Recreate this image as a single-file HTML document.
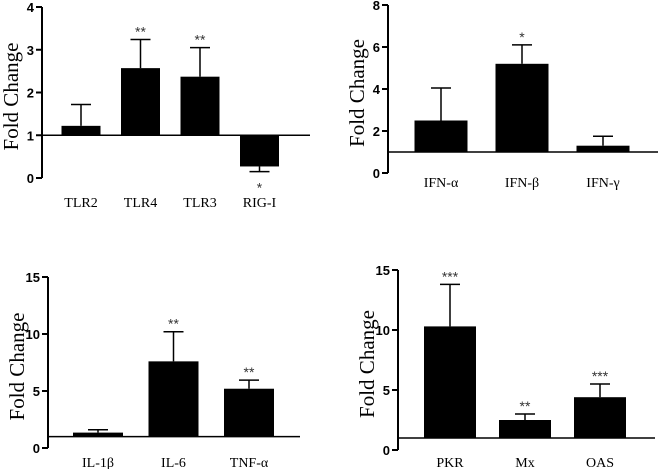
<!DOCTYPE html>
<html><head><meta charset="utf-8"><style>
body{margin:0;background:#fff;width:661px;height:469px;overflow:hidden}
svg{display:block}
.tick{font:bold 13px "Liberation Sans",sans-serif;fill:#000}
.cat{font:14px "Liberation Serif",serif;fill:#000}
.yt{font:21px "Liberation Serif",serif;fill:#000}
.star{font:14px "Liberation Sans",sans-serif;fill:#333}
</style></head><body>
<svg id="chart" width="661" height="469"></svg>
<script>
const p1Cats=["TLR2","TLR4","TLR3","RIG-I"];
const p1Vals=[1.22,2.57,2.37,0.27];
const p1Errs=[0.5,0.67,0.68,0.12];
const p1Stars=["","**","**","*"];
const p1Ticks=[0,1,2,3,4];
const p2Cats=["IFN-α","IFN-β","IFN-γ"];
const p2Vals=[2.5,5.2,1.3];
const p2Errs=[1.55,0.9,0.45];
const p2Stars=["","*",""];
const p2Ticks=[0,2,4,6,8];
const p3Cats=["IL-1β","IL-6","TNF-α"];
const p3Vals=[1.35,7.6,5.2];
const p3Errs=[0.25,2.6,0.75];
const p3Stars=["","**","**"];
const p3Ticks=[0,5,10,15];
const p4Cats=["PKR","Mx","OAS"];
const p4Vals=[10.3,2.5,4.4];
const p4Errs=[3.5,0.5,1.1];
const p4Stars=["***","**","***"];
const p4Ticks=[0,5,10,15];

const svg=document.getElementById('chart');
const NS='http://www.w3.org/2000/svg';
function mk(tag,attrs,parent){const e=document.createElementNS(NS,tag);for(const k in attrs)e.setAttribute(k,attrs[k]);parent.appendChild(e);return e;}

function panel(name,cfg,cats,vals,errs,stars,ticks){
  const g=mk('g',{},svg);
  
  
  const ymax=ticks[ticks.length-1];
  const y=v=>cfg.y0+(cfg.yTop-cfg.y0)*v/ymax;
  const ax=mk('line',{x1:cfg.ax,y1:cfg.yTop,x2:cfg.ax,y2:cfg.y0,stroke:'#000','stroke-width':2},g);
  
  
  ticks.forEach(t=>{
    mk('line',{x1:cfg.ax-6,y1:y(t),x2:cfg.ax,y2:y(t),stroke:'#000','stroke-width':2},g);
    const tx=mk('text',{x:cfg.ax-8,y:y(t)+5,'text-anchor':'end',class:'tick'},g);
    tx.textContent=t;
    
    
  });
  const yt=mk('text',{x:0,y:0,'text-anchor':'middle',class:'yt',transform:`translate(${cfg.ax-24},${(cfg.yTop+cfg.y0)/2+4}) rotate(-90)`},g);
  yt.textContent='Fold Change';
  
  
  const base=y(1);
  cats.forEach((c,i)=>{
    const cx=cfg.c0+i*cfg.step, w=cfg.bw;
    const v=vals[i], top=Math.min(y(v),base), bot=Math.max(y(v),base);
    const ey= v>=1? y(v+errs[i]) : y(v-errs[i]);
    const el=mk('line',{x1:cx,y1:y(v),x2:cx,y2:ey,stroke:'#000','stroke-width':1.5},g);
    
    
    mk('line',{x1:cx-10,y1:ey,x2:cx+10,y2:ey,stroke:'#000','stroke-width':1.5},g);
    const r=mk('rect',{x:cx-w/2,y:top,width:w,height:bot-top,fill:'#000'},g);
    
    
    if(stars[i]){
      const sy= v>=1? ey-8 : ey+16;
      const s=mk('text',{x:cx,y:sy+5,'text-anchor':'middle',class:'star'},g);
      s.textContent=stars[i];
      
      
    }
    const t=mk('text',{x:cx,y:cfg.labY,'text-anchor':'middle',class:'cat'},g);
    t.textContent=c;
    
    
  });
  const bl=mk('line',{x1:cfg.ax,y1:base,x2:cfg.bx,y2:base,stroke:'#000','stroke-width':1.5},g);
  
  
}
panel('panel-tlr',{ax:42,yTop:7,y0:178,c0:81,step:59.5,bw:39,bx:310,labY:207},p1Cats,p1Vals,p1Errs,p1Stars,p1Ticks);
panel('panel-ifn',{ax:388,yTop:5,y0:173,c0:441,step:81,bw:53,bx:658,labY:187},p2Cats,p2Vals,p2Errs,p2Stars,p2Ticks);
panel('panel-cytokine',{ax:48,yTop:277,y0:448,c0:98,step:75.5,bw:50,bx:300,labY:467},p3Cats,p3Vals,p3Errs,p3Stars,p3Ticks);
panel('panel-isg',{ax:398,yTop:270,y0:450,c0:450,step:75,bw:52,bx:655,labY:467},p4Cats,p4Vals,p4Errs,p4Stars,p4Ticks);
</script>
</body></html>
